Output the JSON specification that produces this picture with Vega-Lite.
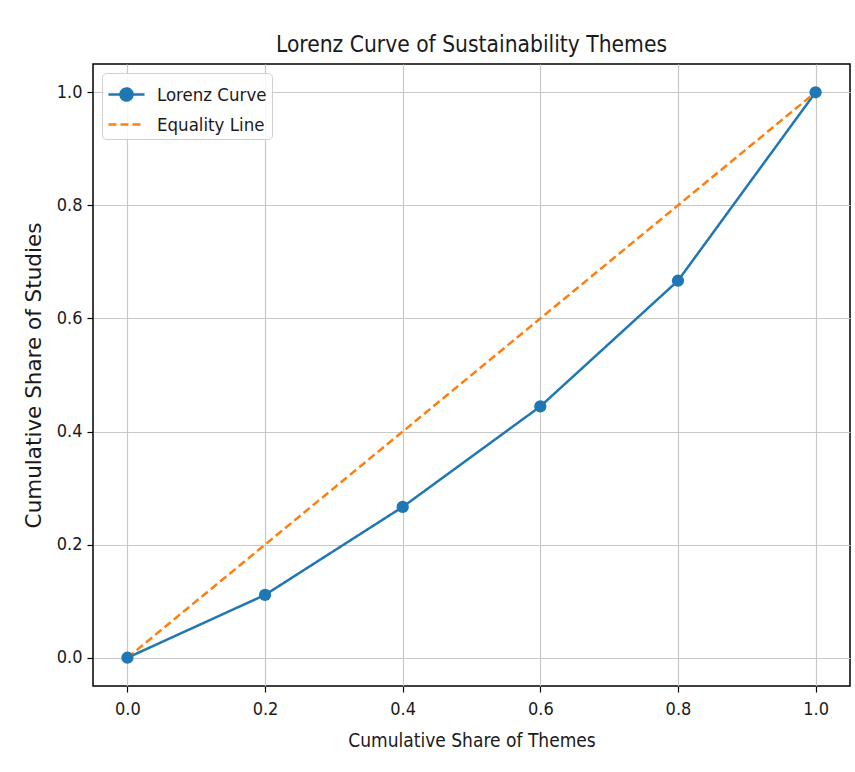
{
  "$schema": "https://vega.github.io/schema/vega-lite/v6.json",
  "width": 757,
  "height": 622,
  "autosize": {"type": "none"},
  "padding": {"left": 93, "top": 64, "right": 5, "bottom": 86},
  "background": "white",
  "title": {
    "text": "Lorenz Curve of Sustainability Themes",
    "anchor": "middle",
    "frame": "group",
    "font": "DejaVu Sans Condensed, Liberation Sans Narrow, DejaVu Sans",
    "fontSize": 22.6,
    "fontWeight": "normal",
    "color": "#1a1a1a",
    "baseline": "alphabetic",
    "offset": -11
  },
  "data": {
    "values": [
      {"x": 0.0, "y": 0.0, "series": "Lorenz Curve"},
      {"x": 0.2, "y": 0.1111, "series": "Lorenz Curve"},
      {"x": 0.4, "y": 0.2667, "series": "Lorenz Curve"},
      {"x": 0.6, "y": 0.4444, "series": "Lorenz Curve"},
      {"x": 0.8, "y": 0.6667, "series": "Lorenz Curve"},
      {"x": 1.0, "y": 1.0, "series": "Lorenz Curve"},
      {"x": 0.0, "y": 0.0, "series": "Equality Line"},
      {"x": 1.0, "y": 1.0, "series": "Equality Line"}
    ]
  },
  "encoding": {
    "x": {
      "field": "x", "type": "quantitative",
      "scale": {"domain": [-0.05, 1.05], "nice": false, "zero": false},
      "axis": {
        "title": "Cumulative Share of Themes",
        "values": [0, 0.2, 0.4, 0.6, 0.8, 1.0],
        "format": ".1f",
        "labelPadding": 8,
        "titleFont": "DejaVu Sans Condensed, Liberation Sans Narrow, DejaVu Sans",
        "titleFontSize": 19,
        "titlePadding": 13
      }
    },
    "y": {
      "field": "y", "type": "quantitative",
      "scale": {"domain": [-0.05, 1.05], "nice": false, "zero": false},
      "axis": {
        "title": "Cumulative Share of Studies",
        "values": [0, 0.2, 0.4, 0.6, 0.8, 1.0],
        "format": ".1f",
        "titleFont": "DejaVu Sans",
        "titleFontSize": 21.5,
        "titlePadding": 11
      }
    }
  },
  "layer": [
    {
      "mark": {"type": "line", "strokeWidth": 2.5},
      "encoding": {
        "color": {
          "field": "series", "type": "nominal",
          "scale": {"domain": ["Lorenz Curve", "Equality Line"], "range": ["#1f77b4", "#ff7f0e"]},
          "legend": {
            "title": null,
            "orient": "top-left",
            "offset": 9,
            "padding": 5,
            "strokeColor": "#d0d0d0",
            "fillColor": "rgba(255,255,255,0.85)",
            "cornerRadius": 4,
            "symbolSize": 900,
            "symbolStrokeWidth": 2.5,
            "labelOffset": 17,
            "labelFont": "DejaVu Sans Condensed, Liberation Sans Narrow, DejaVu Sans",
            "labelFontSize": 18.5,
            "labelColor": "#1a1a1a",
            "rowPadding": 2,
            "encode": {
              "symbols": {
                "update": {
                  "shape": {"signal": "datum.value === 'Lorenz Curve' ? 'M-1,0L1.4,0M0.6,0A0.4,0.4,0,1,1,-0.2,0A0.4,0.4,0,1,1,0.6,0Z' : 'M-1,0L1.4,0'"},
                  "fill": {"signal": "datum.value === 'Lorenz Curve' ? '#1f77b4' : 'transparent'"},
                  "stroke": {"signal": "datum.value === 'Lorenz Curve' ? '#1f77b4' : '#ff7f0e'"},
                  "strokeDash": {"signal": "datum.value === 'Lorenz Curve' ? [1,0] : [8,4]"},
                  "strokeWidth": {"value": 2.5},
                  "opacity": {"value": 1}
                }
              }
            }
          }
        },
        "strokeDash": {
          "field": "series", "type": "nominal",
          "scale": {"domain": ["Lorenz Curve", "Equality Line"], "range": [[1, 0], [8, 4]]},
          "legend": null
        }
      }
    },
    {
      "transform": [{"filter": "datum.series === 'Lorenz Curve'"}],
      "mark": {"type": "point", "filled": true, "size": 150, "opacity": 1, "shape": "circle", "color": "#1f77b4"},
      "encoding": {}
    }
  ],
  "config": {
    "view": {"stroke": "#000000", "strokeWidth": 1.5},
    "axis": {
      "grid": true,
      "gridColor": "#c8c8c8",
      "gridWidth": 1.2,
      "domain": false,
      "ticks": true,
      "tickColor": "#000000",
      "tickSize": 6,
      "tickWidth": 1.2,
      "labelFont": "DejaVu Sans Condensed, Liberation Sans Narrow, DejaVu Sans",
      "labelFontSize": 18,
      "labelColor": "#1a1a1a",
      "labelPadding": 5,
      "titleColor": "#1a1a1a",
      "titleFontWeight": "normal"
    }
  }
}
